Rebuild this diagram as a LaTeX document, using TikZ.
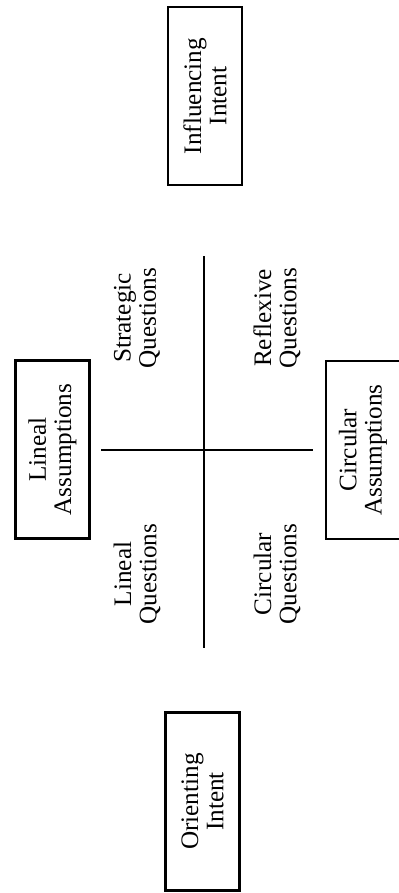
\documentclass[tikz,border=0pt]{standalone}
\usepackage{fontspec}
\setmainfont{Liberation Serif}
\usetikzlibrary{positioning}

\begin{document}
\begin{tikzpicture}[x=0.5pt,y=-0.5pt]
\tikzstyle{every node}+=[inner sep=0pt,rotate=90,align=center,font=\fontsize{12.6}{12.6}\selectfont]
\tikzstyle{intentbox}=[draw=black,line width=1.2pt,minimum width=89pt,minimum height=37pt]
\useasboundingbox (0,0) rectangle (398,893);
% boxes
\node [intentbox] (influencing) at (205,96) {Influencing\\Intent};
\node [intentbox] (orienting) at (202.5,801.5) {Orienting\\Intent};
\node [intentbox] (linealass) at (52.5,449.5) {Lineal\\Assumptions};
\node [intentbox] (circularass) at (363,450) {Circular\\Assumptions};
% the cross
\coordinate (crosstop) at (204,256);
\coordinate (crossbottom) at (204,648);
\coordinate (crossleft) at (101,450);
\coordinate (crossright) at (313,450);
\draw [black,line width=1pt] (crosstop) -- (crossbottom);
\draw [black,line width=1pt] (crossleft) -- (crossright);
% quadrant labels
\node (strategic) at (137,318) {Strategic\\Questions};
\node (reflexive) at (277,318) {Reflexive\\Questions};
\node (linealq) at (137,574) {Lineal\\Questions};
\node (circularq) at (277,574) {Circular\\Questions};
\end{tikzpicture}
\end{document}
